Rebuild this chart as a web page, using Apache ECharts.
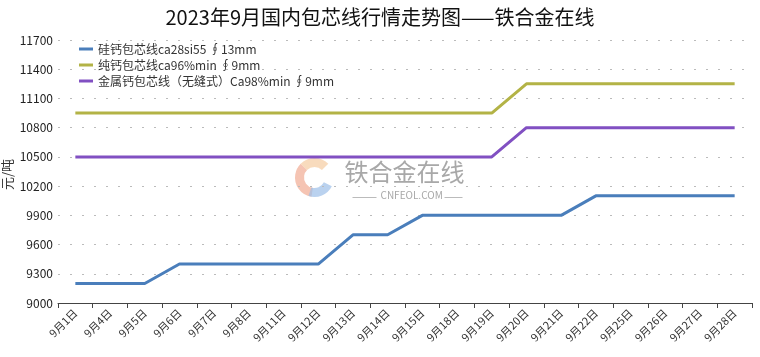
<!DOCTYPE html>
<html><head><meta charset="utf-8">
<script src="https://cdn.jsdelivr.net/npm/echarts@6/dist/echarts.min.js"></script>
<style>html,body{margin:0;padding:0;background:#fff}#c{width:760px;height:357px}</style>
</head><body><div id="c"></div>
<script>
const categories = ['9月1日','9月4日','9月5日','9月6日','9月7日','9月8日','9月11日','9月12日','9月13日','9月14日','9月15日','9月18日','9月19日','9月20日','9月21日','9月22日','9月25日','9月26日','9月27日','9月28日'];
const siCa = [9200,9200,9200,9400,9400,9400,9400,9400,9700,9700,9900,9900,9900,9900,9900,10100,10100,10100,10100,10100];
const pureCa = [10950,10950,10950,10950,10950,10950,10950,10950,10950,10950,10950,10950,10950,11250,11250,11250,11250,11250,11250,11250];
const metalCa = [10500,10500,10500,10500,10500,10500,10500,10500,10500,10500,10500,10500,10500,10800,10800,10800,10800,10800,10800,10800];
const seriesNames = ['硅钙包芯线ca28si55 ∮13mm','纯钙包芯线ca96%min ∮9mm','金属钙包芯线（无缝式）Ca98%min ∮9mm'];
const colors = ['#4a7ebb','#b3b346','#8150c2'];

const chart = echarts.init(document.getElementById('c'));
const font = '"Noto Sans CJK SC", "Noto Sans", sans-serif';
chart.setOption({
  animation: false,
  textStyle: {fontFamily: font},
  title: {text: '2023年9月国内包芯线行情走势图——铁合金在线', left: 'center', top: 2,
    textStyle: {fontSize: 20, fontWeight: 'normal', color: '#111', fontFamily: font}},
  legend: {orient: 'vertical', left: 74, top: 38, itemWidth: 14, itemHeight: 3, itemGap: 4,
    icon: 'rect', textStyle: {fontSize: 12, color: '#333'},
    data: seriesNames},
  grid: {left: 58, right: 8, top: 40, bottom: 54},
  graphic: [
    {type: 'text', rotation: Math.PI/2, x: 1, y: 190, style: {text: '元/吨', fontSize: 13, fill: '#333', fontFamily: font}},
    {type: 'group', left: 295, top: 158, children: [
      {type: 'arc', shape: {cx: 20, cy: 20, r: 15, startAngle: Math.PI*0.55, endAngle: Math.PI*1.25}, style: {stroke: '#f0a58a', lineWidth: 9, fill: null, opacity: 0.65}},
      {type: 'arc', shape: {cx: 20, cy: 20, r: 15, startAngle: Math.PI*1.25, endAngle: Math.PI*1.75}, style: {stroke: '#f5c79a', lineWidth: 9, fill: null, opacity: 0.65}},
      {type: 'arc', shape: {cx: 20, cy: 20, r: 15, startAngle: Math.PI*0.15, endAngle: Math.PI*0.6}, style: {stroke: '#9dbfe8', lineWidth: 9, fill: null, opacity: 0.7}},
      {type: 'text', x: 50, y: 2, style: {text: '铁合金在线', fontSize: 24, fill: '#a8a8a8', fontFamily: font}},
      {type: 'text', x: 86, y: 33, style: {text: 'CNFEOL.COM', fontSize: 10, fill: '#a8a8a8', fontFamily: font}},
      {type: 'line', shape: {x1: 58, y1: 40, x2: 82, y2: 40}, style: {stroke: '#bbb', lineWidth: 1}},
      {type: 'line', shape: {x1: 150, y1: 40, x2: 168, y2: 40}, style: {stroke: '#bbb', lineWidth: 1}}
    ]}
  ],
  xAxis: {type: 'category', data: categories, boundaryGap: true,
    axisLine: {lineStyle: {color: '#444', width: 1}},
    axisTick: {show: true, length: 5, lineStyle: {color: '#444'}},
    axisLabel: {rotate: 45, fontSize: 11, color: '#333', interval: 0, margin: 8}},
  yAxis: {type: 'value', min: 9000, max: 11700, interval: 300,
    axisLine: {show: false}, axisTick: {show: false},
    axisLabel: {fontSize: 12, color: '#222', margin: 5, formatter: v => String(v)},
    splitLine: {lineStyle: {color: '#bbb', type: [2, 10], width: 1}}},
  series: [
    {name: seriesNames[0], type: 'line', data: siCa, symbol: 'none', lineStyle: {width: 3, color: colors[0]}, itemStyle: {color: colors[0]}},
    {name: seriesNames[1], type: 'line', data: pureCa, symbol: 'none', lineStyle: {width: 3, color: colors[1]}, itemStyle: {color: colors[1]}},
    {name: seriesNames[2], type: 'line', data: metalCa, symbol: 'none', lineStyle: {width: 3, color: colors[2]}, itemStyle: {color: colors[2]}}
  ]
});
</script></body></html>
